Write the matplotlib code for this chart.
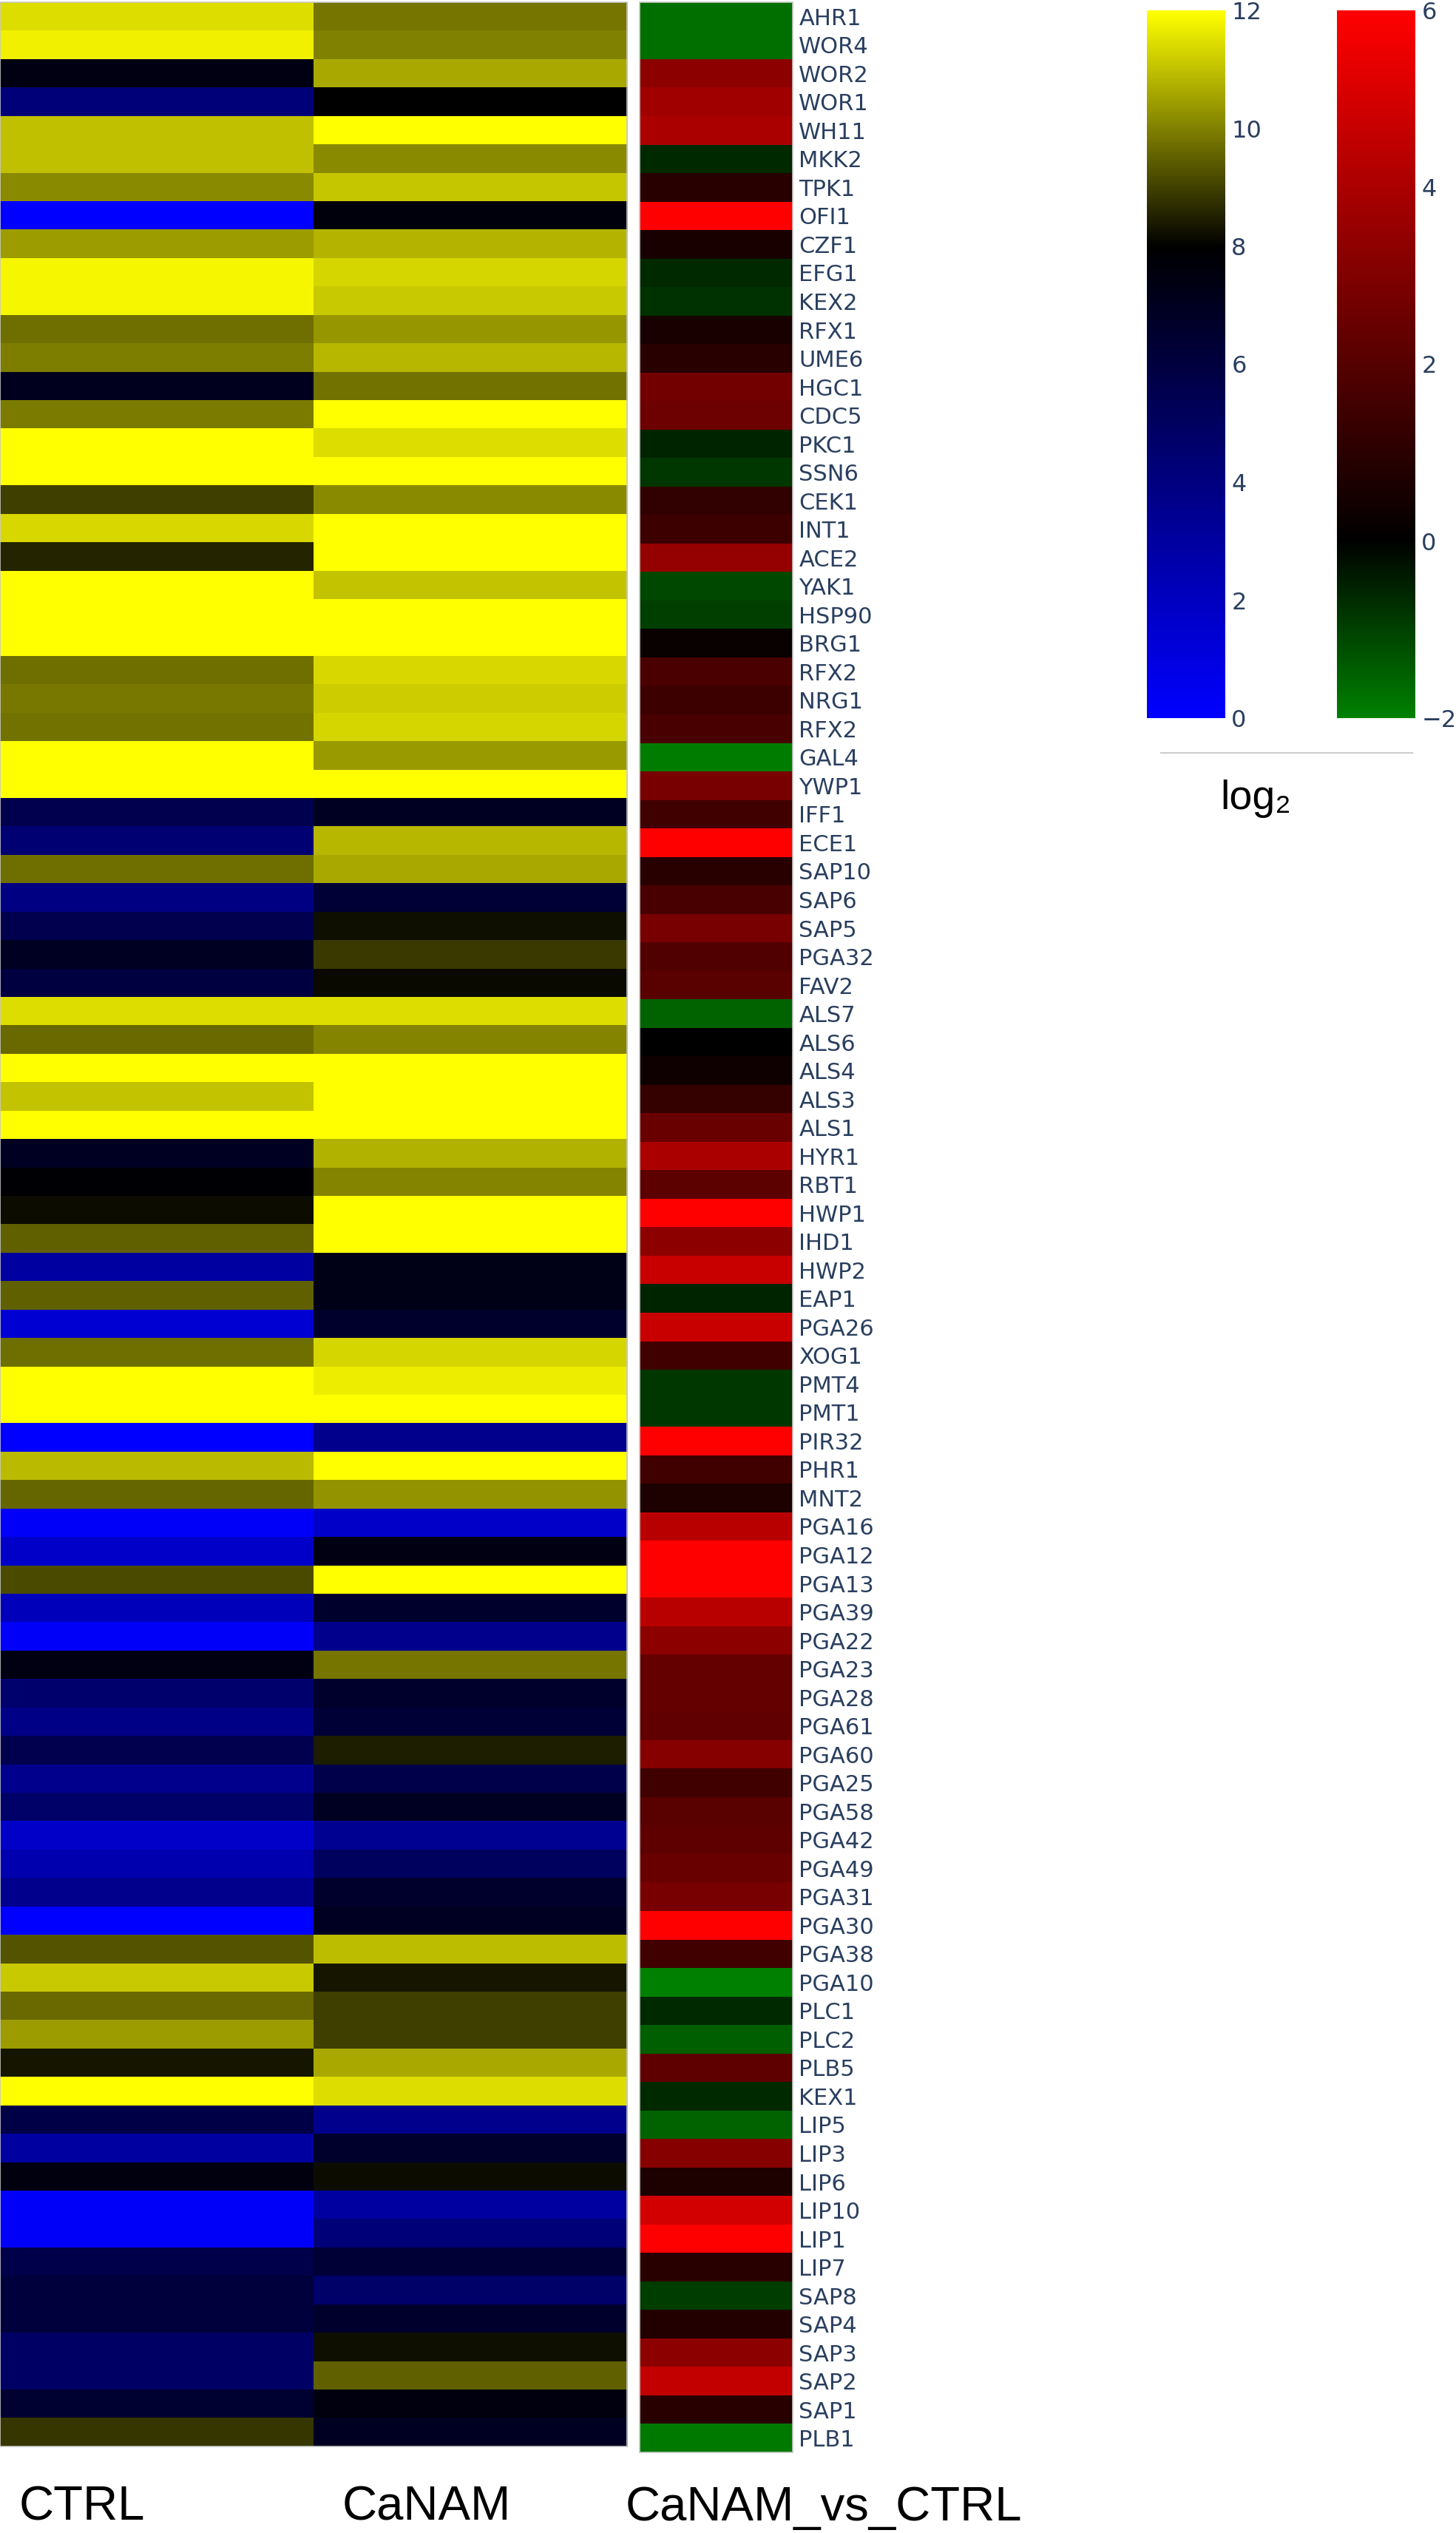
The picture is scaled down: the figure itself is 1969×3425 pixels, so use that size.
import numpy as np
from matplotlib import pyplot as plt
from matplotlib.colors import LinearSegmentedColormap
from matplotlib.lines import Line2D

genes = [
    "AHR1", "WOR4", "WOR2", "WOR1", "WH11", "MKK2", "TPK1", "OFI1", "CZF1", "EFG1",
    "KEX2", "RFX1", "UME6", "HGC1", "CDC5", "PKC1", "SSN6", "CEK1", "INT1", "ACE2",
    "YAK1", "HSP90", "BRG1", "RFX2", "NRG1", "RFX2", "GAL4", "YWP1", "IFF1", "ECE1",
    "SAP10", "SAP6", "SAP5", "PGA32", "FAV2", "ALS7", "ALS6", "ALS4", "ALS3", "ALS1",
    "HYR1", "RBT1", "HWP1", "IHD1", "HWP2", "EAP1", "PGA26", "XOG1", "PMT4", "PMT1",
    "PIR32", "PHR1", "MNT2", "PGA16", "PGA12", "PGA13", "PGA39", "PGA22", "PGA23", "PGA28",
    "PGA61", "PGA60", "PGA25", "PGA58", "PGA42", "PGA49", "PGA31", "PGA30", "PGA38", "PGA10",
    "PLC1", "PLC2", "PLB5", "KEX1", "LIP5", "LIP3", "LIP6", "LIP10", "LIP1", "LIP7",
    "SAP8", "SAP4", "SAP3", "SAP2", "SAP1", "PLB1",
]

ctrl = [
    11.47, 11.73, 7.37, 4.24, 10.98, 10.98, 10.16, 0.0, 10.43, 11.84,
    11.84, 9.73, 9.96, 7.06, 9.91, 12.0, 12.0, 8.97, 11.37, 8.55,
    12.0, 12.0, 12.0, 9.73, 9.85, 9.76, 12.0, 12.0, 5.49, 4.39,
    9.73, 3.92, 5.49, 6.9, 5.96, 11.45, 9.65, 12.0, 11.06, 12.0,
    6.9, 7.84, 8.16, 9.49, 2.98, 9.49, 1.41, 9.73, 12.0, 12.0,
    0.0, 10.9, 9.57, 0.16, 1.73, 9.18, 2.2, 0.16, 7.37, 4.55,
    3.76, 5.49, 3.6, 4.71, 1.73, 2.51, 3.6, 0.0, 9.29, 11.14,
    9.65, 10.43, 8.31, 12.0, 5.8, 2.98, 7.53, 0.16, 0.16, 5.65,
    6.12, 6.12, 4.86, 4.86, 6.43, 8.82,
]

canam = [
    9.8, 10.0, 10.63, 8.0, 12.0, 10.16, 11.1, 7.6, 10.82, 11.3,
    11.14, 10.35, 10.85, 9.76, 12.0, 11.48, 12.0, 10.16, 12.0, 12.0,
    11.06, 12.0, 12.0, 11.37, 11.2, 11.34, 10.38, 12.0, 6.9, 10.85,
    10.63, 6.27, 8.24, 8.86, 8.13, 11.48, 10.04, 12.0, 12.0, 12.0,
    10.75, 10.04, 12.0, 12.0, 7.31, 7.31, 6.59, 11.3, 11.69, 12.0,
    3.6, 12.0, 10.27, 1.73, 7.37, 12.0, 6.59, 3.6, 9.8, 6.59,
    6.27, 8.47, 5.65, 6.9, 3.45, 5.02, 6.59, 6.9, 10.95, 8.31,
    8.97, 8.97, 10.63, 11.48, 3.6, 6.59, 8.19, 2.98, 4.24, 6.27,
    4.71, 6.59, 8.24, 9.49, 7.53, 6.9,
]

fold = [
    -1.72, -1.72, 3.3, 3.76, 4.0, -0.63, 0.94, 6.0, 0.59, -0.63,
    -0.78, 0.59, 0.94, 2.7, 2.59, -0.55, -0.86, 1.18, 1.46, 3.53,
    -1.1, -1.0, 0.24, 1.76, 1.46, 1.69, -1.95, 2.82, 1.53, 6.0,
    0.94, 1.69, 2.82, 1.93, 2.12, -1.56, 0.0, 0.35, 1.22, 2.47,
    4.0, 2.16, 6.0, 3.29, 4.7, -0.55, 4.7, 1.53, -0.86, -0.86,
    6.0, 1.53, 0.71, 4.35, 6.0, 6.0, 4.35, 3.29, 2.35, 2.35,
    2.3, 3.18, 1.53, 2.12, 2.24, 2.47, 2.82, 6.0, 1.53, -2.0,
    -0.63, -1.48, 2.24, -0.63, -1.56, 3.18, 0.71, 4.94, 6.0, 0.94,
    -0.94, 0.82, 3.29, 4.59, 0.94, -1.88,
]

columns = ["CTRL", "CaNAM", "CaNAM_vs_CTRL"]

W, H = 1969, 3425
fig = plt.figure(figsize=(W / 100, H / 100), dpi=100)

label_color = "#2a3f5f"
edge_color = "#c8c8c8"

expr_cmap = LinearSegmentedColormap.from_list(
    "blue_black_yellow", [(0.0, "#0000ff"), (8 / 12, "#000000"), (1.0, "#ffff00")]
)
fold_cmap = LinearSegmentedColormap.from_list(
    "green_black_red", [(0.0, "#008000"), (2 / 8, "#000000"), (1.0, "#ff0000")]
)


def fig_box(x0, y0, x1, y1):
    # pixel box (top-left origin) -> figure coords
    return [x0 / W, 1 - y1 / H, (x1 - x0) / W, (y1 - y0) / H]


# expression heatmap (CTRL, CaNAM)
expr = np.column_stack([ctrl, canam])
ax_expr = fig.add_axes(fig_box(0, 3, 848, 3308))
im_expr = ax_expr.imshow(
    expr, aspect="auto", cmap=expr_cmap, vmin=0, vmax=12, interpolation="nearest"
)
ax_expr.set_xticks([])
ax_expr.set_yticks([])
for sp in ax_expr.spines.values():
    sp.set_color(edge_color)
    sp.set_linewidth(1.2)

# fold change column
ax_fc = fig.add_axes(fig_box(865, 3, 1072, 3316))
im_fc = ax_fc.imshow(
    np.array(fold).reshape(-1, 1),
    aspect="auto",
    cmap=fold_cmap,
    vmin=-2,
    vmax=6,
    interpolation="nearest",
)
ax_fc.set_xticks([])
ax_fc.yaxis.tick_right()
ax_fc.set_yticks(range(len(genes)))
ax_fc.set_yticklabels(genes, fontsize=22, color=label_color)
ax_fc.tick_params(axis="y", length=0, pad=6)
for sp in ax_fc.spines.values():
    sp.set_color(edge_color)
    sp.set_linewidth(1.2)

# column labels underneath
for x, txt in zip([111, 577, 1114], columns):
    fig.text(x / W, 1 - 3391 / H, txt, ha="center", va="center",
             fontsize=47, family=["Liberation Sans", "DejaVu Sans"])

# colorbars
cax1 = fig.add_axes(fig_box(1551, 14, 1657, 971))
cb1 = fig.colorbar(im_expr, cax=cax1, ticks=[0, 2, 4, 6, 8, 10, 12])
cax2 = fig.add_axes(fig_box(1808, 14, 1914, 971))
cb2 = fig.colorbar(im_fc, cax=cax2, ticks=[-2, 0, 2, 4, 6])
for cb in (cb1, cb2):
    cb.outline.set_visible(False)
    cb.ax.tick_params(length=0, labelsize=23, labelcolor=label_color, pad=6)

fig.add_artist(Line2D([1570 / W, 1910 / W], [1 - 1018 / H, 1 - 1018 / H],
                      transform=fig.transFigure, color="#cccccc", linewidth=1.5))
fig.text(1698 / W, 1 - 1080 / H, "log₂", ha="center", va="center",
         fontsize=40, family=["Liberation Sans", "DejaVu Sans"])

fig.savefig("out.png", dpi=100)
plt.close(fig)
